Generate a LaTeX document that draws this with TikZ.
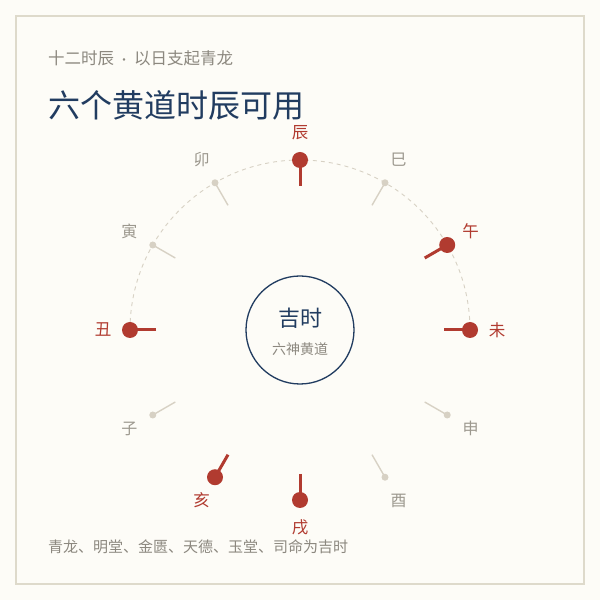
\documentclass[tikz,border=0pt]{standalone}
\usepackage{fontspec}
\setmainfont{Noto Sans CJK SC}
\usetikzlibrary{positioning}
\definecolor{paper}{HTML}{FDFCF7}
\definecolor{rim}{HTML}{DEDACB}
\definecolor{cinnabar}{HTML}{B13B30}
\definecolor{ash}{HTML}{D7D1C4}
\definecolor{ashtext}{HTML}{9C988E}
\definecolor{inktext}{HTML}{8C887F}
\definecolor{navy}{HTML}{213C60}

\begin{document}
\begin{tikzpicture}[
  x=1pt, y=1pt,
  caption/.style={anchor=west, inner sep=0pt, text=inktext},
  lucky dot/.style={circle, fill=cinnabar, inner sep=0pt, minimum size=16pt},
  plain dot/.style={circle, fill=ash, inner sep=0pt, minimum size=7pt},
  lucky tick/.style={cinnabar, line width=3pt},
  plain tick/.style={ash, line width=1.4pt},
  lucky label/.style={text=cinnabar, font=\fontsize{16.5}{18}\selectfont, inner sep=0pt},
  plain label/.style={text=ashtext, font=\fontsize{16}{18}\selectfont, inner sep=0pt}
]
\useasboundingbox (0,0) rectangle (600,600);
\fill[paper] (0,0) rectangle (600,600);
\draw[rim, line width=1.5pt] (16,16) rectangle (584,584);

% headings
\node[caption, font=\fontsize{16.5}{20}\selectfont] (sub) at (48,542) {十二时辰\hspace{4pt}\makebox[12pt]{\fontsize{12}{12}\selectfont·}\hspace{4pt}以日支起青龙};
\node[caption, text=navy, font=\fontsize{32}{36}\selectfont] (title) at (48,495) {六个黄道时辰可用};

% dial
\coordinate (c) at (300,270);
\draw[ash, line width=0.9pt, dash pattern=on 4pt off 4pt] (130,270) arc[start angle=180, end angle=0, radius=170];

\foreach \ang/\name/\kind in {90/辰/lucky, 60/巳/plain, 30/午/lucky, 0/未/lucky,
    -30/申/plain, -60/酉/plain, -90/戌/lucky, -120/亥/lucky,
    -150/子/plain, 180/丑/lucky, 150/寅/plain, 120/卯/plain}{
  \coordinate (p\ang) at ([shift={(\ang:170)}]c);
  \coordinate (t\ang) at ([shift={(\ang:144)}]c);
  \draw[\kind\space tick] (t\ang) -- (p\ang);
  \node[\kind\space dot] (d\ang) at (p\ang) {};
  \node[\kind\space label] (l\ang) at ([shift={(\ang:197)}]c) {\name};
}

% hub
\node[circle, draw=navy, line width=1.3pt, minimum size=108pt, inner sep=0pt] (hub) at (c) {};
\node[text=navy, font=\fontsize{22}{26}\selectfont, inner sep=0pt] (lucky) at (300,282) {吉时};
\node[text=inktext, font=\fontsize{14}{16}\selectfont, inner sep=0pt] (gods) at (300,251) {六神黄道};

% footnote
\node[caption, font=\fontsize{15}{18}\selectfont] (note) at (48,53) {青龙、明堂、金匮、天德、玉堂、司命为吉时};
\end{tikzpicture}
\end{document}
